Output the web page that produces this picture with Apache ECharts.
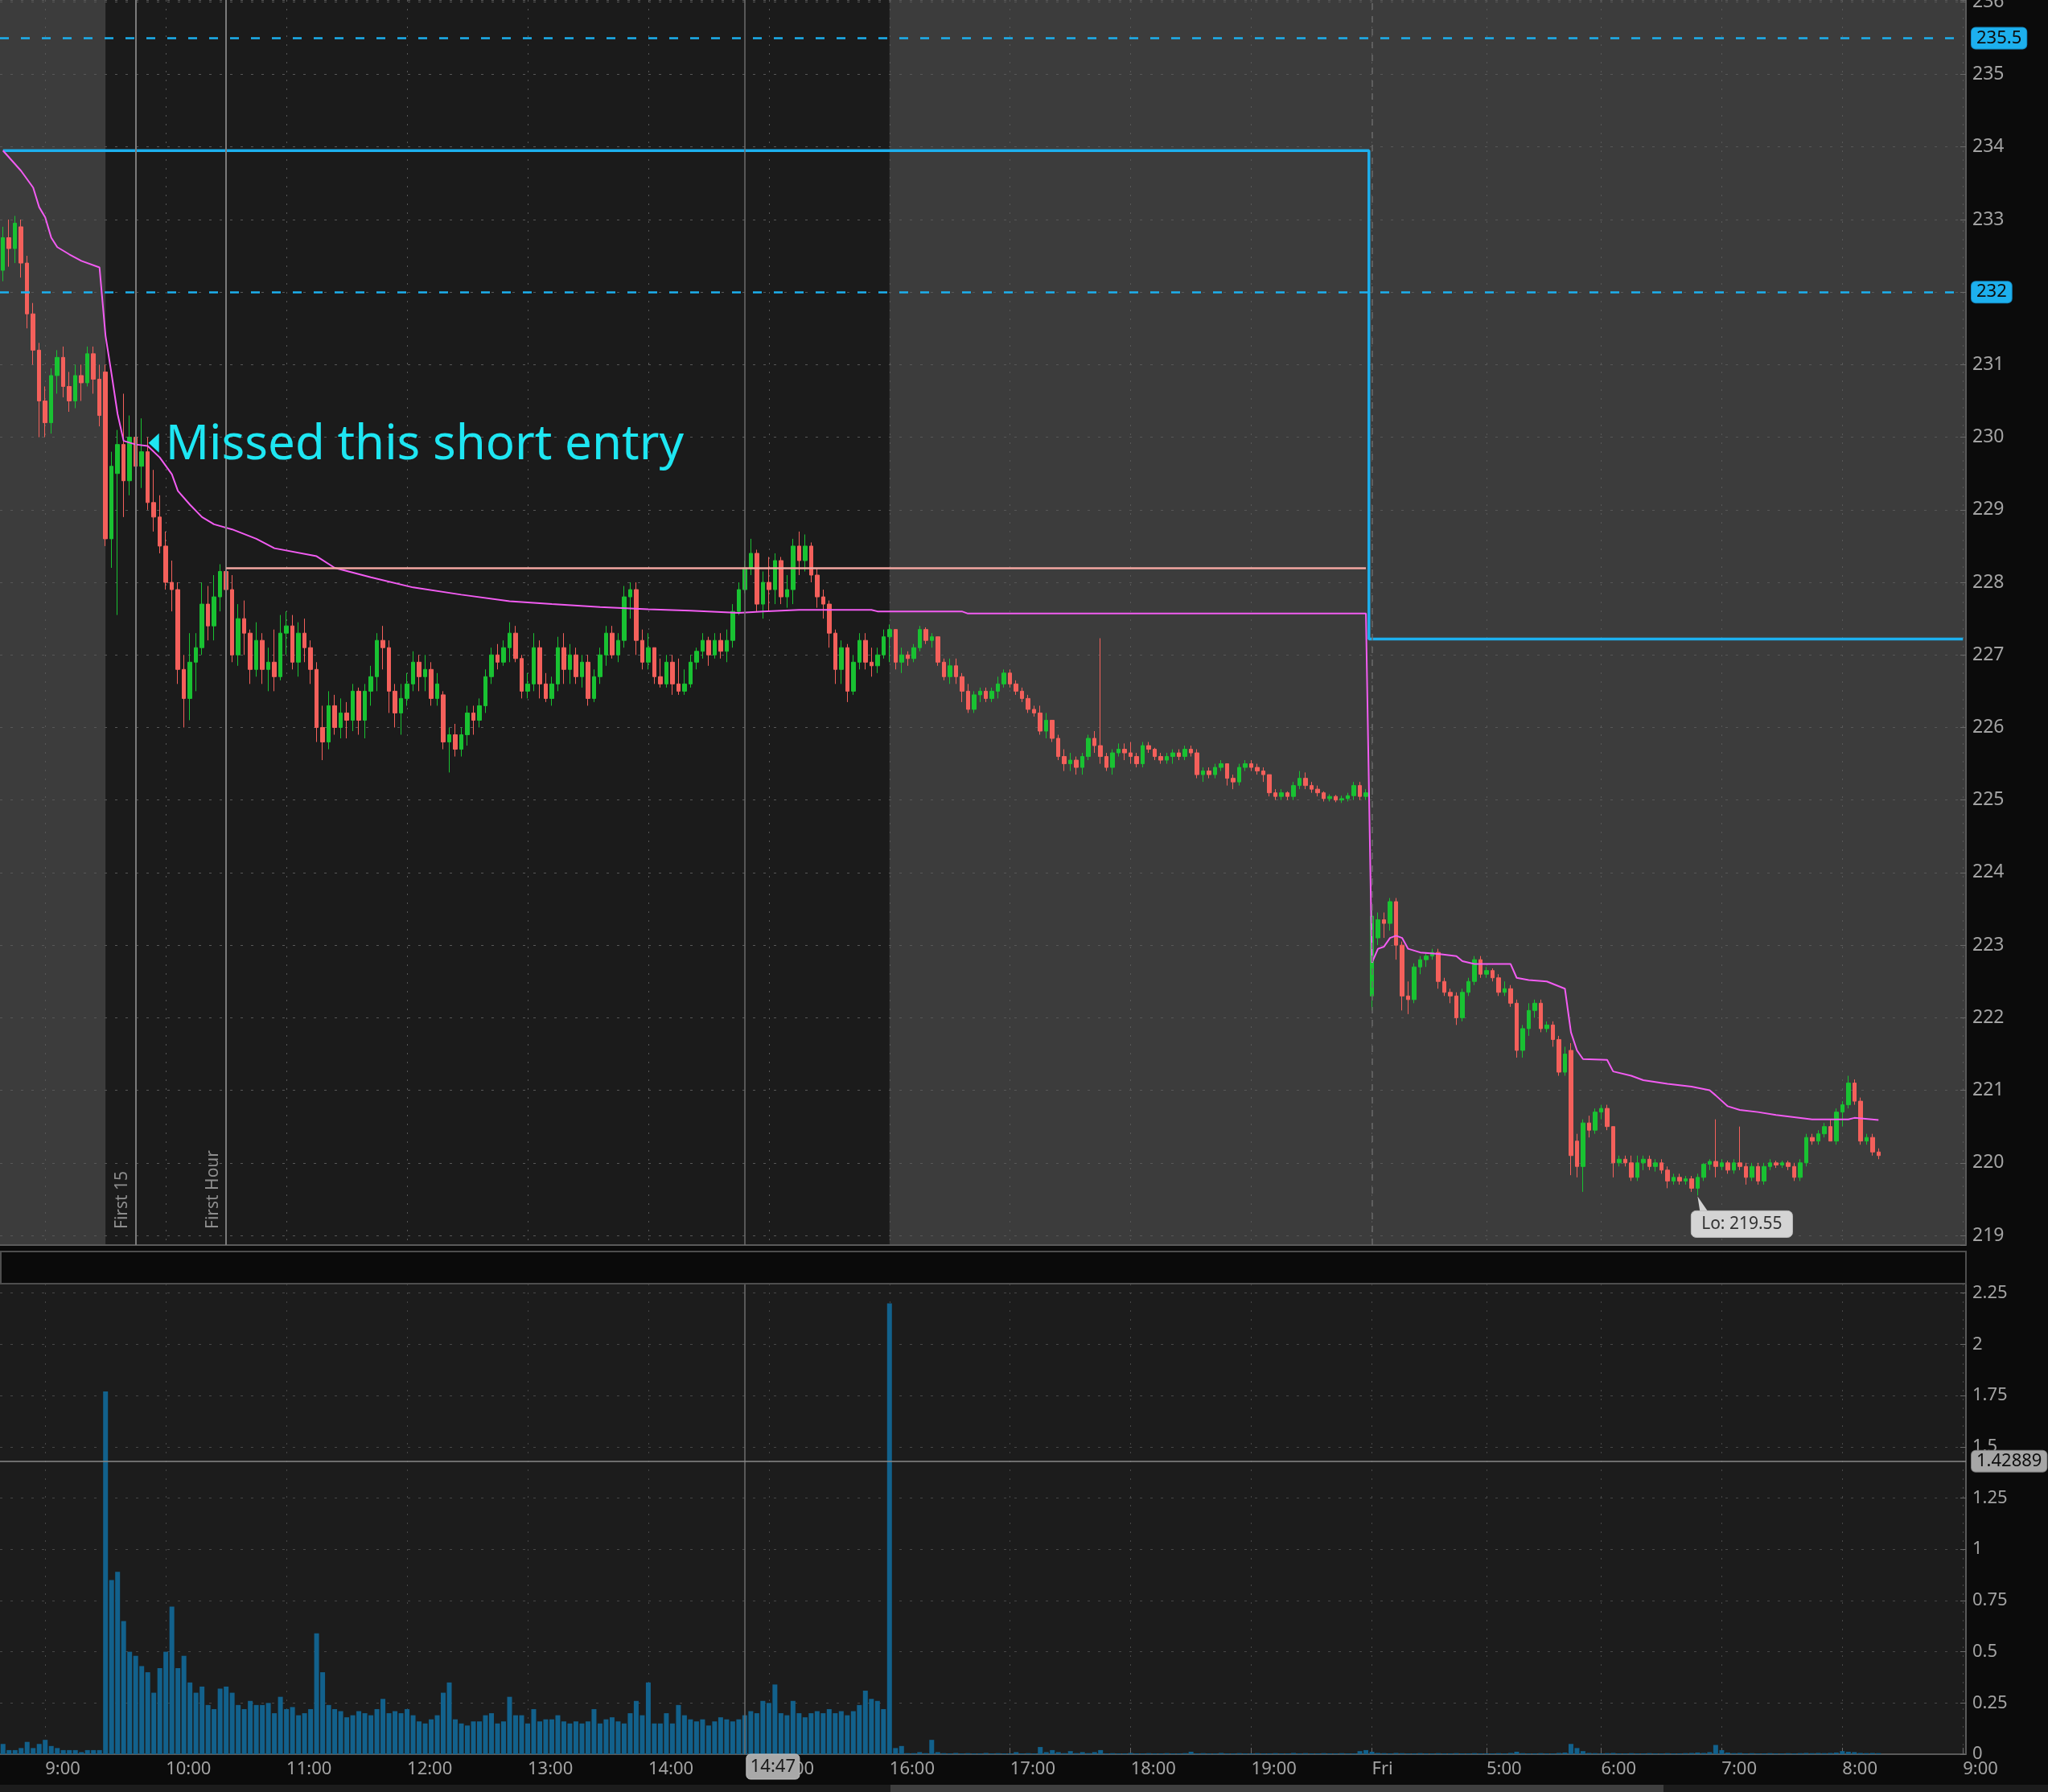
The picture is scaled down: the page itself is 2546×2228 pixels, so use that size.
<!DOCTYPE html>
<html><head><meta charset="utf-8">
<script src="https://cdn.jsdelivr.net/npm/echarts@6/dist/echarts.min.js"></script>
<style>html,body{margin:0;padding:0;background:#0b0b0b;}#c{width:2546px;height:2228px;}</style>
</head><body><div id="c"></div>
<script>
// ---------- time axis (3-minute bars) ----------
const sessions = [
  { day: 'Thu', start: '8:39', end: '19:57' },
  { day: 'Fri', start: '4:00', end: '9:00' }
];
const missingBars = ['Fri 4:27', 'Fri 5:33'];
const xTicks = [
  ['Thu 9:00','9:00'],['Thu 10:00','10:00'],['Thu 11:00','11:00'],['Thu 12:00','12:00'],
  ['Thu 13:00','13:00'],['Thu 14:00','14:00'],['Thu 15:00','15:00'],['Thu 16:00','16:00'],
  ['Thu 17:00','17:00'],['Thu 18:00','18:00'],['Thu 19:00','19:00'],['Fri 4:00','Fri'],
  ['Fri 5:00','5:00'],['Fri 6:00','6:00'],['Fri 7:00','7:00'],['Fri 8:00','8:00'],['Fri 9:00','9:00']
];
const priceTicks = [219,220,221,222,223,224,225,226,227,228,229,230,231,232,233,234,235,236];
const volumeTicks = [0,0.25,0.5,0.75,1,1.25,1.5,1.75,2,2.25];

// ---------- candles [open, close, low, high] ----------
const thuBars = [
 [232.3,232.75,232.15,232.9],[232.75,232.6,232.35,233.0],[232.6,232.95,232.4,233.05],[232.9,232.4,232.2,233.0],[232.4,231.7,231.5,232.5],
 [231.7,231.2,231.0,231.85],[231.2,230.5,230.0,231.3],[230.5,230.2,230.0,230.7],[230.2,230.85,230.05,230.95],[230.85,231.1,230.6,231.2],
 [231.1,230.7,230.55,231.25],[230.7,230.5,230.35,230.9],[230.5,230.85,230.4,231.0],[230.85,230.75,230.5,231.0],[230.75,231.15,230.7,231.25],
 [231.15,230.8,230.6,231.25],[230.8,230.3,230.15,231.0],[230.9,228.6,228.5,231.0],[228.6,229.6,228.2,229.8],[229.5,229.9,227.55,230.1],
 [229.9,229.4,228.9,230.6],[229.4,230.0,229.2,230.3],[230.0,229.6,229.2,230.2],[229.6,229.8,229.3,230.26],[229.8,229.1,229.0,230.0],
 [229.1,228.9,228.7,229.55],[228.9,228.5,228.4,229.2],[228.5,228.0,227.9,228.7],[228.0,227.9,227.6,228.3],[227.9,226.8,226.6,228.0],
 [226.8,226.4,226.0,227.0],[226.4,226.9,226.1,227.3],[226.9,227.1,226.5,227.3],[227.1,227.7,227.0,228.0],[227.7,227.4,227.2,227.95],
 [227.4,227.8,227.2,228.1],[227.8,228.15,227.6,228.25],[228.15,227.9,227.7,228.6],[227.9,227.0,226.9,228.1],[227.0,227.5,226.85,227.7],
 [227.5,227.3,227.0,227.75],[227.3,226.8,226.6,227.35],[226.8,227.2,226.7,227.45],[227.2,226.8,226.6,227.3],[226.8,226.9,226.5,227.1],
 [226.9,226.7,226.5,227.35],[226.7,227.3,226.65,227.55],[227.3,227.4,227.0,227.6],[227.4,226.9,226.8,227.55],[226.9,227.3,226.7,227.45],
 [227.3,227.1,226.9,227.5],[227.1,226.8,226.6,227.2],[226.8,226.0,225.8,226.9],[226.0,225.8,225.55,226.3],[225.8,226.3,225.7,226.5],
 [226.3,226.0,225.9,226.45],[226.0,226.2,225.85,226.4],[226.2,226.1,225.85,226.35],[226.1,226.5,225.95,226.6],[226.5,226.1,225.9,226.55],
 [226.1,226.5,225.85,226.6],[226.5,226.7,226.3,226.85],[226.7,227.2,226.5,227.3],[227.2,227.1,226.8,227.4],[227.1,226.5,226.2,227.2],
 [226.5,226.2,226.0,226.6],[226.2,226.4,225.9,226.6],[226.4,226.6,226.3,226.75],[226.6,226.9,226.5,227.05],[226.9,226.7,226.5,227.0],
 [226.7,226.8,226.5,227.0],[226.8,226.4,226.3,226.9],[226.4,226.6,226.3,226.75],[226.45,225.8,225.7,226.5],[225.8,225.9,225.38,226.0],
 [225.9,225.7,225.6,226.05],[225.7,225.9,225.6,226.0],[225.9,226.2,225.75,226.3],[226.2,226.1,225.9,226.3],[226.1,226.3,226.0,226.4],
 [226.3,226.7,226.2,226.8],[226.7,227.0,226.6,227.1],[227.0,226.9,226.8,227.15],[226.9,227.1,226.85,227.2],[227.1,227.3,226.9,227.45],
 [227.3,226.95,226.9,227.4],[226.95,226.5,226.4,227.0],[226.5,226.6,226.4,226.75],[226.6,227.1,226.5,227.3],[227.1,226.6,226.4,227.2],
 [226.6,226.4,226.35,226.75],[226.4,226.6,226.3,226.7],[226.6,227.1,226.5,227.25],[227.1,226.8,226.6,227.3],[226.8,227.0,226.6,227.15],
 [227.0,226.7,226.6,227.1],[226.7,226.9,226.55,227.0],[226.9,226.4,226.3,227.0],[226.4,226.7,226.35,226.8],[226.7,227.0,226.6,227.1],
 [227.0,227.3,226.85,227.4],[227.3,227.0,226.95,227.4],[227.0,227.2,226.9,227.3],[227.2,227.8,227.1,227.95],[227.8,227.9,227.5,228.0],
 [227.9,227.2,227.0,228.0],[227.2,226.9,226.8,227.35],[226.9,227.1,226.8,227.3],[227.1,226.7,226.6,227.1],[226.7,226.6,226.55,226.95],
 [226.6,226.9,226.55,227.0],[226.9,226.6,226.45,227.0],[226.6,226.5,226.45,226.95],[226.5,226.6,226.45,226.8],[226.6,226.9,226.55,227.0],
 [226.9,227.05,226.8,227.1],[227.05,227.2,226.95,227.3],[227.2,227.0,226.85,227.25],[227.0,227.2,226.95,227.3],[227.2,227.05,226.95,227.3],
 [227.05,227.2,226.9,227.35],[227.2,227.6,227.1,227.7],[227.6,227.9,227.55,228.0],[227.9,228.2,227.85,228.3],[228.2,228.4,228.1,228.6],
 [228.4,227.7,227.6,228.45],[227.7,228.0,227.5,228.15],[228.0,227.9,227.6,228.35],[227.9,228.3,227.7,228.4],[228.3,227.8,227.7,228.35],
 [227.8,227.9,227.65,228.1],[227.9,228.5,227.7,228.6],[228.5,228.3,228.1,228.7],[228.3,228.5,228.15,228.66],[228.5,228.1,228.0,228.55],
 [228.1,227.8,227.65,228.2],[227.8,227.7,227.5,227.9],[227.7,227.3,227.1,227.75],[227.3,226.8,226.6,227.35],[226.8,227.1,226.6,227.2],
 [227.1,226.5,226.35,227.15],[226.5,226.9,226.45,227.0],[226.9,227.2,226.8,227.3],[227.2,226.9,226.8,227.3],[226.9,226.85,226.7,227.1],
 [226.85,227.0,226.75,227.1],[227.0,227.25,226.95,227.35],[227.25,227.35,226.9,227.42],[227.35,226.9,226.8,227.35],[226.9,227.0,226.75,227.1],
 [227.0,226.95,226.85,227.05],[226.95,227.1,226.9,227.15],[227.1,227.35,227.05,227.4],[227.35,227.2,227.15,227.38],[227.2,227.25,227.1,227.3],
 [227.25,226.9,226.85,227.25],[226.9,226.7,226.65,226.95],[226.7,226.85,226.6,226.95],[226.85,226.7,226.6,226.95],[226.7,226.5,226.35,226.75],
 [226.5,226.25,226.2,226.6],[226.25,226.45,226.2,226.5],[226.45,226.5,226.35,226.55],[226.5,226.4,226.35,226.55],[226.4,226.5,226.35,226.55],
 [226.5,226.6,226.4,226.7],[226.6,226.75,226.55,226.8],[226.75,226.6,226.55,226.8],[226.6,226.5,226.45,226.65],[226.5,226.4,226.35,226.55],
 [226.4,226.25,226.2,226.45],[226.25,226.2,226.15,226.3],[226.2,225.95,225.9,226.3],[225.95,226.1,225.85,226.2],[226.1,225.85,225.8,226.1],
 [225.85,225.6,225.55,225.9],[225.6,225.5,225.4,225.7],[225.5,225.55,225.4,225.65],[225.55,225.45,225.35,225.6],[225.45,225.6,225.35,225.65],
 [225.6,225.85,225.55,225.9],[225.85,225.75,225.65,225.95],[225.75,225.6,225.5,227.23],[225.6,225.45,225.4,225.65],[225.45,225.65,225.35,225.7],
 [225.65,225.7,225.6,225.78],[225.7,225.65,225.55,225.78],[225.65,225.6,225.5,225.8],[225.6,225.5,225.45,225.65],[225.5,225.75,225.45,225.8],
 [225.75,225.7,225.65,225.8],[225.7,225.6,225.55,225.72],[225.6,225.55,225.5,225.65],[225.55,225.6,225.5,225.65],[225.6,225.65,225.5,225.7],
 [225.65,225.6,225.55,225.7],[225.6,225.7,225.55,225.75],[225.7,225.65,225.6,225.75],[225.65,225.35,225.3,225.7],[225.35,225.4,225.25,225.45],
 [225.4,225.35,225.3,225.45],[225.35,225.45,225.3,225.5],[225.45,225.5,225.4,225.55],[225.5,225.3,225.2,225.5],[225.3,225.25,225.15,225.35],
 [225.25,225.45,225.2,225.5],[225.45,225.5,225.4,225.55],[225.5,225.45,225.4,225.55],[225.45,225.4,225.35,225.5],[225.4,225.35,225.25,225.45],
 [225.35,225.1,225.05,225.35],[225.1,225.05,225.0,225.15],[225.05,225.1,225.0,225.15],[225.1,225.05,225.0,225.12],[225.05,225.2,225.0,225.25],
 [225.2,225.3,225.15,225.4],[225.3,225.2,225.15,225.38],[225.2,225.15,225.1,225.25],[225.15,225.1,225.05,225.2],[225.1,225.02,224.98,225.12],
 [225.02,225.05,224.98,225.08],[225.05,225.0,224.97,225.07],[225.0,225.02,224.96,225.06],[225.02,225.06,224.98,225.1],[225.06,225.2,225.0,225.25],
 [225.2,225.05,225.0,225.25],[225.05,225.1,225.0,225.15]
];
const friBars = [
 [222.3,223.4,222.1,223.55],[223.1,223.35,223.0,223.45],[223.35,223.3,223.1,223.45],[223.3,223.6,223.2,223.65],[223.6,223.0,222.8,223.65],
 [223.0,222.3,222.1,223.05],[222.3,222.25,222.05,222.5],[222.25,222.7,222.2,222.75],[222.7,222.8,222.6,222.85],[222.8,222.85,222.7,222.9],
 [222.85,222.9,222.8,222.95],[222.9,222.5,222.4,222.95],[222.5,222.35,222.3,222.55],[222.35,222.3,222.2,222.4],[222.3,222.0,221.9,222.35],
 [222.0,222.35,221.95,222.4],[222.35,222.5,222.3,222.55],[222.5,222.8,222.45,222.85],[222.8,222.6,222.55,222.85],[222.6,222.65,222.55,222.7],
 [222.65,222.55,222.5,222.68],[222.55,222.35,222.3,222.6],[222.35,222.4,222.3,222.5],[222.4,222.2,222.15,222.45],[222.2,221.55,221.45,222.25],
 [221.55,221.85,221.45,221.9],[221.85,222.1,221.75,222.2],[222.1,222.2,222.0,222.25],[222.2,221.85,221.8,222.25],[221.85,221.9,221.8,221.95],
 [221.9,221.7,221.6,221.95],[221.7,221.25,221.2,221.75],[221.25,221.5,221.2,221.6],[221.55,220.1,219.83,221.65],[220.3,219.95,219.8,220.4],
 [219.95,220.55,219.6,220.6],[220.55,220.45,220.35,220.65],[220.45,220.7,220.4,220.75],[220.7,220.75,220.6,220.8],[220.75,220.5,220.45,220.8],
 [220.5,220.0,219.8,220.5],[220.0,220.05,219.95,220.1],[220.05,220.0,219.95,220.1],[220.0,219.8,219.75,220.1],[219.8,220.0,219.75,220.1],
 [220.0,220.05,219.9,220.1],[220.05,219.95,219.9,220.1],[219.95,220.0,219.88,220.05],[220.0,219.9,219.85,220.05],[219.9,219.75,219.65,219.95],
 [219.75,219.8,219.7,219.85],[219.8,219.75,219.7,219.85],[219.75,219.78,219.7,219.82],[219.78,219.65,219.6,219.82],[219.65,219.8,219.55,219.85],
 [219.8,219.98,219.75,220.0],[219.98,220.02,219.9,220.05],[220.02,219.95,219.8,220.6],[219.95,220.0,219.9,220.05],[220.0,219.9,219.85,220.03],
 [219.9,220.0,219.85,220.05],[220.0,219.95,219.9,220.5],[219.95,219.8,219.7,220.0],[219.8,219.95,219.75,220.0],[219.95,219.75,219.7,220.0],
 [219.75,219.95,219.7,220.0],[219.95,220.0,219.9,220.05],[220.0,219.97,219.93,220.03],[219.97,220.0,219.93,220.03],[220.0,219.95,219.9,220.03],
 [219.95,219.8,219.75,220.0],[219.8,220.0,219.75,220.05],[220.0,220.35,219.95,220.4],[220.35,220.3,220.25,220.4],[220.3,220.4,220.25,220.45],
 [220.4,220.5,220.35,220.55],[220.5,220.3,220.3,220.6],[220.3,220.7,220.25,220.75],[220.7,220.8,220.5,220.85],[220.8,221.1,220.75,221.2],
 [221.1,220.85,220.8,221.15],[220.85,220.3,220.25,220.9],[220.3,220.35,220.25,220.4],[220.35,220.15,220.1,220.4],[220.15,220.1,220.05,220.2]
];

// ---------- volume (millions, per bar) ----------
const thuVolume = [
 0.05,0.02,0.02,0.03,0.06,0.03,0.05,0.07,0.04,0.03,0.02,0.02,0.02,0.01,0.02,0.02,0.02,
 1.77,0.85,0.89,0.65,0.5,0.48,0.43,0.4,0.3,0.42,0.5,0.72,0.42,0.48,0.35,0.3,0.33,0.24,0.22,0.32,0.33,0.3,0.24,0.22,0.26,0.24,0.24,0.25,0.2,0.28,
 0.22,0.23,0.19,0.2,0.22,0.59,0.4,0.24,0.22,0.21,0.18,0.19,0.21,0.2,0.19,0.22,0.27,0.2,0.21,0.2,0.22,0.19,0.16,0.15,0.17,0.19,0.3,0.35,0.17,0.15,
 0.14,0.16,0.16,0.19,0.2,0.15,0.16,0.28,0.19,0.19,0.15,0.22,0.16,0.17,0.17,0.19,0.16,0.15,0.16,0.15,0.16,0.22,0.15,0.17,0.18,0.16,0.15,0.2,0.26,0.19,
 0.35,0.15,0.15,0.2,0.15,0.24,0.19,0.17,0.16,0.17,0.14,0.16,0.18,0.17,0.16,0.17,0.19,0.21,0.2,0.26,0.25,0.34,0.2,0.19,0.26,0.2,0.18,0.2,0.21,0.2,
 0.22,0.2,0.21,0.19,0.21,0.24,0.31,0.27,0.26,0.22,
 2.2,0.03,0.04,0.005,0.005,0.01,0.005,0.07,0.01,
 0.005,0.004,0.006,0.004,0.005,0.004,0.004,0.006,0.004,0.005,0.004,0.004,0.01,0.004,0.005,0.004,
 0.035,0.01,0.02,0.01,0.005,0.015,0.005,0.01,0.005,0.01,0.02,
 0.004,0.005,0.004,0.004,0.006,0.004,0.004,0.005,0.004,0.004,0.005,0.004,0.004,0.005,
 0.012,
 0.004,0.005,0.004,0.004,0.006,0.004,0.004,0.005,0.004,0.004,0.005,0.004,0.004,0.005,0.004,0.004,0.006,0.004,0.005,0.004,0.004,0.005,0.004,0.004,0.005,0.004,0.004,
 0.015,0.02
];
const friVolume = [
 0.012,0.006,0.005,0.004,0.006,0.005,0.004,0.004,0.005,0.004,
 0.004,0.005,0.004,0.004,0.005,0.004,0.004,0.005,0.004,0.004,
 0.004,0.005,0.004,0.006,0.012,0.005,0.004,0.004,0.005,0.004,
 0.004,0.006,0.008,0.05,0.03,0.015,0.006,0.005,0.004,0.005,
 0.006,0.004,0.004,0.005,0.004,0.004,0.005,0.004,0.004,0.005,
 0.004,0.004,0.005,0.006,0.008,0.006,0.01,0.045,0.02,0.008,
 0.005,0.006,0.004,0.005,0.004,0.004,0.005,0.004,0.004,0.005,
 0.004,0.005,0.006,0.005,0.006,0.005,0.006,0.008,0.015,0.012,
 0.01,0.006,0.005,0.006,0.005
];

// ---------- VWAP ----------
const vwapPoints = [
 ['Thu 8:39',233.95],['Thu 8:48',233.67],['Thu 8:54',233.44],['Thu 8:57',233.17],['Thu 9:00',233.03],['Thu 9:03',232.75],
 ['Thu 9:06',232.62],['Thu 9:12',232.52],['Thu 9:18',232.43],['Thu 9:27',232.34],['Thu 9:30',231.4],['Thu 9:33',230.87],
 ['Thu 9:36',230.32],['Thu 9:39',229.95],['Thu 9:45',229.9],['Thu 9:51',229.88],['Thu 9:57',229.72],['Thu 10:03',229.49],
 ['Thu 10:06',229.26],['Thu 10:12',229.07],['Thu 10:18',228.9],['Thu 10:24',228.8],['Thu 10:33',228.73],['Thu 10:45',228.6],
 ['Thu 10:54',228.47],['Thu 11:15',228.36],['Thu 11:24',228.2],['Thu 11:42',228.07],['Thu 12:03',227.93],['Thu 12:27',227.83],
 ['Thu 12:51',227.74],['Thu 13:12',227.7],['Thu 13:36',227.66],['Thu 14:00',227.63],['Thu 14:21',227.61],['Thu 14:45',227.58],
 ['Thu 14:57',227.6],['Thu 15:15',227.62],['Thu 15:51',227.62],['Thu 15:54',227.6],['Thu 16:36',227.6],['Thu 16:39',227.57],
 ['Thu 19:57',227.57],
 ['Fri 4:00',222.76],['Fri 4:03',222.95],['Fri 4:06',222.98],['Fri 4:09',223.1],['Fri 4:12',223.13],['Fri 4:15',223.1],
 ['Fri 4:18',222.95],['Fri 4:24',222.9],['Fri 4:36',222.88],['Fri 4:45',222.85],['Fri 4:48',222.78],['Fri 4:54',222.74],
 ['Fri 5:12',222.74],['Fri 5:15',222.55],['Fri 5:21',222.52],['Fri 5:30',222.5],['Fri 5:42',222.4],['Fri 5:45',221.8],
 ['Fri 5:48',221.55],['Fri 5:51',221.43],['Fri 6:03',221.42],['Fri 6:06',221.26],['Fri 6:15',221.2],['Fri 6:21',221.14],
 ['Fri 6:33',221.09],['Fri 6:45',221.05],['Fri 6:54',221.0],['Fri 6:57',220.93],['Fri 7:03',220.78],['Fri 7:09',220.73],
 ['Fri 7:18',220.7],['Fri 7:27',220.66],['Fri 7:45',220.6],['Fri 8:03',220.6],['Fri 8:06',220.62],['Fri 8:18',220.59]
];

// ---------- levels & annotations ----------
const priorLevels = [['Thu 8:39',233.95],['Thu 19:57',233.95],['Fri 4:00',227.22],['Fri 9:00',227.22]];
const dashedLevels = [235.5, 232];
const firstHourHigh = { from: 'Thu 10:30', to: 'Thu 19:57', value: 228.2 };
const sessionMarks = [{ time: 'Thu 9:45', label: 'First 15' }, { time: 'Thu 10:30', label: 'First Hour' }];
const regularSession = ['Thu 9:30', 'Thu 16:00'];
const dayBreak = 'Fri 4:00';
const vwapLast = 220.59, lastPrice = 220.1, priorLast = 227.22;
const lowPoint = { time: 'Fri 6:48', value: 219.55, text: 'Lo: 219.55' };
const note = { time: 'Thu 9:54', value: 229.92, text: 'Missed this short entry' };
const crosshair = { time: 'Thu 14:48', label: '14:47', volume: 1.42889 };
const priceRange = [218.867, 236.0255];
const volumeRange = [0, 2.296];

// ---------- build ----------
function toMin(s){ const p = s.split(':').map(Number); return p[0]*60 + p[1]; }
function fmt(m){ return Math.floor(m/60) + ':' + String(m%60).padStart(2,'0'); }
const categories = [];
sessions.forEach(s => {
  for (let m = toMin(s.start); m <= toMin(s.end); m += 3) {
    const k = s.day + ' ' + fmt(m);
    if (!missingBars.includes(k)) categories.push(k);
  }
});
const ohlc = thuBars.concat(friBars);
const volumes = thuVolume.concat(friVolume);
const tickLabel = Object.fromEntries(xTicks);
const isTick = (i, v) => Object.prototype.hasOwnProperty.call(tickLabel, v);

const FONT = "'Noto Sans', 'Open Sans', sans-serif";
const UP = '#19c232', DOWN = '#f4605b', CYAN = '#1db0ee', PINK = '#f3a7a2', MAGENTA = '#f25cf2', ANNO = '#1ee6f2';
const AXIS_TXT = '#a3a3a3';

function boxLabel(text, bg, border) {
  return { show: true, position: 'end', distance: 7, formatter: text, color: '#0d0d0d',
    backgroundColor: bg, borderColor: border, borderWidth: 1, borderRadius: 5,
    padding: [3, 6, 1, 6], fontSize: 22, fontFamily: FONT };
}

const priceMarkLines = [];
sessionMarks.forEach(s => priceMarkLines.push({
  xAxis: s.time, lineStyle: { color: '#7b7b7b', width: 2, type: 'solid' },
  label: { show: true, formatter: s.label, position: 'insideStartTop', distance: [20, 6], color: '#8e8e8e', fontSize: 21, fontFamily: FONT }
}));
priceMarkLines.push({ xAxis: crosshair.time, lineStyle: { color: '#6e6e6e', width: 1.5, type: 'solid' }, label: { show: false } });
priceMarkLines.push({ xAxis: dayBreak, lineStyle: { color: '#6a6a6a', width: 1.5, type: [8, 8] }, label: { show: false } });
dashedLevels.forEach(v => priceMarkLines.push({
  yAxis: v, lineStyle: { color: CYAN, width: 2.5, type: [11, 15] }, label: boxLabel(String(v), CYAN, '#1488c0')
}));
priceMarkLines.push([
  { coord: [firstHourHigh.from, firstHourHigh.value], lineStyle: { color: PINK, width: 2.5, type: 'solid' }, label: { show: false } },
  { coord: [firstHourHigh.to, firstHourHigh.value] }
]);
priceMarkLines.push({ yAxis: firstHourHigh.value, lineStyle: { opacity: 0 }, label: boxLabel(String(firstHourHigh.value), PINK, '#d68a86') });
priceMarkLines.push({ yAxis: priorLast, lineStyle: { opacity: 0 }, label: boxLabel(String(priorLast), CYAN, '#1488c0') });
priceMarkLines.push({ yAxis: vwapLast, lineStyle: { opacity: 0 }, label: boxLabel(String(vwapLast), '#ff66ff', '#c040c0') });
priceMarkLines.push({ yAxis: lastPrice, lineStyle: { opacity: 0 }, label: boxLabel(String(lastPrice), '#f0605a', '#c04440') });

const chart = echarts.init(document.getElementById('c'), null, { renderer: 'canvas', width: 2546, height: 2228 });

const option = {
  backgroundColor: '#0b0b0b',
  animation: false,
  textStyle: { fontFamily: FONT },
  grid: [
    { left: 0, top: 0, width: 2444, height: 1548, show: false, outerBoundsMode: 'none', containLabel: false },
    { left: 0, top: 1596, width: 2444, height: 585, show: true, backgroundColor: '#1c1c1c', borderWidth: 0, outerBoundsMode: 'none', containLabel: false }
  ],
  xAxis: [
    { type: 'category', gridIndex: 0, data: categories, boundaryGap: true,
      axisLine: { show: true, lineStyle: { color: '#5a5a5a', width: 2 } },
      axisTick: { show: false }, axisLabel: { show: false },
      splitLine: { show: true, interval: isTick, alignWithLabel: true, lineStyle: { color: '#575757', type: [2, 9] } } },
    { type: 'category', gridIndex: 1, data: categories, boundaryGap: true,
      axisLine: { show: true, lineStyle: { color: '#5a5a5a', width: 2 } },
      axisTick: { show: true, interval: isTick, alignWithLabel: true, inside: true, length: 8, lineStyle: { color: '#6a6a6a' } },
      axisLabel: { show: true, interval: isTick, formatter: v => tickLabel[v] || '', align: 'left', color: AXIS_TXT, fontSize: 22, margin: 8, fontFamily: FONT },
      splitLine: { show: true, interval: isTick, alignWithLabel: true, lineStyle: { color: '#474747', type: [2, 9] } } }
  ],
  yAxis: [
    { type: 'value', gridIndex: 0, position: 'right', min: priceRange[0], max: priceRange[1],
      minInterval: 1, maxInterval: 1, splitNumber: 17,
      axisLine: { show: true, lineStyle: { color: '#5a5a5a', width: 2 } },
      axisTick: { show: true, inside: true, length: 7, lineStyle: { color: '#6a6a6a' } },
      axisLabel: { color: AXIS_TXT, fontSize: 23, margin: 8, fontFamily: FONT,
        formatter: v => priceTicks.some(t => Math.abs(t - v) < 1e-6) ? String(Math.round(v)) : '' },
      splitLine: { show: true, lineStyle: { color: '#575757', type: [3, 10] } } },
    { type: 'value', gridIndex: 1, position: 'right', min: volumeRange[0], max: volumeRange[1], interval: 0.25,
      axisLine: { show: true, lineStyle: { color: '#5a5a5a', width: 2 } },
      axisTick: { show: true, inside: true, length: 7, lineStyle: { color: '#6a6a6a' } },
      axisLabel: { color: AXIS_TXT, fontSize: 22, margin: 8, fontFamily: FONT,
        formatter: v => { const t = volumeTicks.find(x => Math.abs(x - v) < 1e-6); return t === undefined ? '' : String(t); } },
      splitLine: { show: true, lineStyle: { color: '#474747', type: [3, 10] } } }
  ],
  series: [
    { type: 'candlestick', name: 'price', xAxisIndex: 0, yAxisIndex: 0, data: ohlc, barWidth: 5, clip: false,
      itemStyle: { color: UP, color0: DOWN, borderColor: UP, borderColor0: DOWN, borderWidth: 1 },
      markArea: { silent: true, z: -5, label: { show: false }, data: [
        [{ yAxis: priceRange[0], itemStyle: { color: '#3c3c3c' } }, { yAxis: priceRange[1] }],
        [{ xAxis: regularSession[0], itemStyle: { color: '#1b1b1b' } }, { xAxis: regularSession[1] }]
      ] },
      markLine: { silent: true, symbol: ['none', 'none'], animation: false, data: priceMarkLines },
      markPoint: { silent: true, data: [
        { coord: [note.time, note.value], symbol: 'triangle', symbolSize: [24, 13], symbolRotate: 90,
          itemStyle: { color: ANNO },
          label: { show: true, position: 'right', distance: 8, offset: [0, 3], formatter: note.text, color: ANNO, fontSize: 60, fontFamily: FONT } }
      ] } },
    { type: 'line', name: 'prior', xAxisIndex: 0, yAxisIndex: 0, data: priorLevels, step: 'middle', showSymbol: false,
      lineStyle: { color: CYAN, width: 3.5 }, z: 3, silent: true },
    { type: 'line', name: 'vwap', xAxisIndex: 0, yAxisIndex: 0, data: vwapPoints, showSymbol: false,
      lineStyle: { color: MAGENTA, width: 2 }, z: 4, silent: true },
    { type: 'bar', name: 'volume', xAxisIndex: 1, yAxisIndex: 1, data: volumes, barWidth: 6, clip: false,
      itemStyle: { color: '#12618c' },
      markLine: { silent: true, symbol: ['none', 'none'], animation: false, data: [
        { xAxis: crosshair.time, lineStyle: { color: '#6e6e6e', width: 1.5, type: 'solid' }, label: { show: false } },
        { yAxis: crosshair.volume, lineStyle: { color: '#8a8a8a', width: 1.5, type: 'solid' },
          label: boxLabel(String(crosshair.volume), '#a6a6a6', '#7a7a7a') }
      ] } }
  ]
};
chart.setOption(option);

// overlays positioned through the chart's own scales
const li = categories.indexOf(lowPoint.time);
const lp = chart.convertToPixel({ gridIndex: 0 }, [li, lowPoint.value]);
const ci = categories.indexOf(crosshair.time);
const cp = chart.convertToPixel({ gridIndex: 1 }, [ci, volumeRange[0]]);

chart.setOption({ graphic: [
  { type: 'rect', silent: true, z: 50, shape: { x: 0, y: 1549, width: 2444, height: 47 }, style: { fill: '#0a0a0a' } },
  { type: 'rect', silent: true, z: 51, shape: { x: 1, y: 1556, width: 2443, height: 40 }, style: { fill: 'none', stroke: '#4e4e4e', lineWidth: 2 } },
  { type: 'rect', silent: true, z: 50, shape: { x: 0, y: 2219, width: 2546, height: 9 }, style: { fill: '#1c1c1c' } },
  { type: 'rect', silent: true, z: 51, shape: { x: 1107, y: 2219, width: 961, height: 9 }, style: { fill: '#3f3f3f' } },
  { type: 'polygon', silent: true, z: 60, shape: { points: [[lp[0], lp[1] + 1], [lp[0] + 3, lp[1] + 20], [lp[0] + 13, lp[1] + 20]] }, style: { fill: '#d4d4d4' } },
  { type: 'rect', silent: true, z: 60, shape: { x: lp[0] - 8, y: lp[1] + 19, width: 126, height: 33, r: 6 }, style: { fill: '#d4d4d4', stroke: '#bdbdbd', lineWidth: 1 } },
  { type: 'text', silent: true, z: 61, x: lp[0] + 55, y: lp[1] + 36, style: { text: lowPoint.text, fill: '#333', fontSize: 21, fontFamily: FONT, align: 'center', verticalAlign: 'middle' } },
  { type: 'rect', silent: true, z: 60, shape: { x: cp[0] + 2, y: 2181, width: 66, height: 31, r: 5 }, style: { fill: '#a9a9a9', stroke: '#c4c4c4', lineWidth: 1 } },
  { type: 'text', silent: true, z: 61, x: cp[0] + 35, y: 2197, style: { text: crosshair.label, fill: '#1a1a1a', fontSize: 22, fontFamily: FONT, align: 'center', verticalAlign: 'middle' } }
] });
</script></body></html>
